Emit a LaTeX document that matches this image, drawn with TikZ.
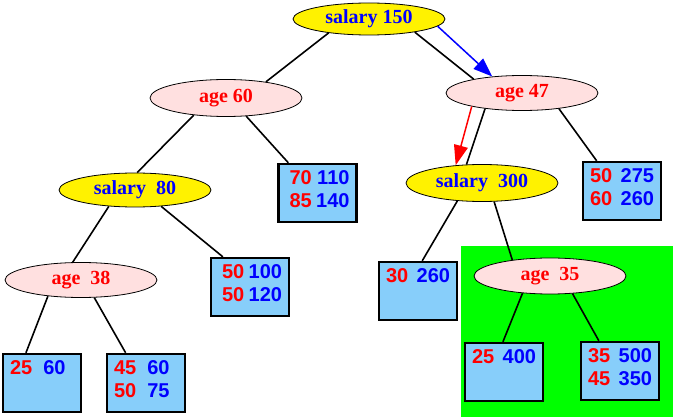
\documentclass[tikz,border=0pt]{standalone}
\usepackage{fontspec}
\setmainfont{Liberation Serif}
\setsansfont{Liberation Sans}
\usepackage{xcolor}
\usepackage{tikz}
\usetikzlibrary{shapes.geometric,arrows.meta}
\definecolor{LeafBlue}{RGB}{135,206,250}
\definecolor{SplitPink}{RGB}{255,224,224}
\definecolor{PathGreen}{RGB}{0,255,0}
\newcommand{\rnum}[1]{\textcolor{red}{#1}}
\newcommand{\bnum}[1]{\textcolor{blue}{#1}}
\newcommand{\leafrows}[2][0pt]{\parbox[c][44pt][t]{64pt}{\leftskip=#1 #2}}
\tikzset{
    agenode/.style={ellipse, draw=black, line width=0.8pt, fill=SplitPink, text=red, font=\bfseries\fontsize{20}{23}\selectfont, minimum width=152pt, minimum height=35pt, inner sep=0pt},
    salnode/.style={agenode, fill=yellow, text=blue},
    leafnode/.style={rectangle, draw=black, line width=2.4pt, fill=LeafBlue, minimum width=78pt, minimum height=58pt, inner sep=0pt, font=\sffamily\bfseries\fontsize{20}{23}\selectfont},
    treeline/.style={draw=black, line width=1.6pt}
}

\begin{document}
\begin{tikzpicture}[
        x=1pt, y=-1pt,
        % --- STYLE ---
        % Mui ten duong di
        walkblue/.style={draw=blue, line width=1.5pt, -{Triangle[length=19pt,width=14pt]}},
        walkred/.style={draw=red, line width=1.5pt, -{Triangle[length=20pt,width=14pt]}}
    ]
        \useasboundingbox (0,0) rectangle (673,417);

        % --- VUNG XANH LA ---
        \fill[PathGreen] (461,246) rectangle (673,417);

        % --- CAC NUT TACH ---
        \node[salnode, minimum height=32pt] (s150) at (369,19) {salary 150};
        \node[agenode, minimum height=37pt] (a60) at (226,98) {age 60};
        \node[agenode] (a47) at (522,93) {age 47};
        \node[salnode, minimum height=34pt] (s80) at (135,190) {salary\ \ 80};
        \node[salnode, minimum height=37pt] (s300) at (482,183) {salary\ \ 300};
        \node[agenode] (a38) at (81,280) {age\ \ 38};
        \node[agenode, minimum height=36pt] (a35) at (550,276) {age\ \ 35};

        % --- CAC LA ---
        \node[leafnode] (l110) at (317.5,193) {\leafrows[4pt]{\rnum{70} \bnum{110}\\\rnum{85} \bnum{140}}};
        \node[leafnode] (l275) at (622,191) {\leafrows{\rnum{50}\ \ \bnum{275}\\\rnum{60}\ \ \bnum{260}}};
        \node[leafnode] (l100) at (250,287) {\leafrows[4pt]{\rnum{50} \bnum{100}\\\rnum{50} \bnum{120}}};
        \node[leafnode] (l60a) at (42,383) {\leafrows{\rnum{25}\ \ \bnum{60}}};
        \node[leafnode] (l60b) at (146,383) {\leafrows{\rnum{45}\ \ \bnum{60}\\\rnum{50}\ \ \bnum{75}}};
        \node[leafnode] (l260) at (418,291) {\leafrows{\rnum{30}\ \ \bnum{260}}};
        \node[leafnode] (l400) at (504,372) {\leafrows{\rnum{25}\ \ \bnum{400}}};
        \node[leafnode] (l500) at (620,371) {\leafrows{\rnum{35}\ \ \bnum{500}\\\rnum{45}\ \ \bnum{350}}};

        % --- CANH CUA CAY ---
        \draw[treeline] (s150.-161) -- (a60.22);
        \draw[treeline] (s150.-16) -- (a47.164);
        \draw[treeline] (a60.-152) -- (s80.83);
        \draw[treeline] (a60.-42) -- (l110.134);
        \draw[treeline] (a47.-157) -- (s300.130);
        \draw[treeline] (a47.-23) -- (l275.130);
        \draw[treeline] (s80.-148) -- (a38.115);
        \draw[treeline] (s80.-32) -- (l100.132);
        \draw[treeline] (a38.-154) -- (l60a.118);
        \draw[treeline] (a38.-53) -- (l60b.124);
        \draw[treeline] (s300.-144) -- (l260.82);
        \draw[treeline] (s300.-57) -- (a35.157);
        \draw[treeline] (a35.-148) -- (l400.92);
        \draw[treeline] (a35.-38) -- (l500.125);

        % --- DUONG DI ---
        \draw[walkblue] (s150.-6) -- (a47.151);
        \draw[walkred] (a47.-165) -- (s300.146);

    \end{tikzpicture}
\end{document}
